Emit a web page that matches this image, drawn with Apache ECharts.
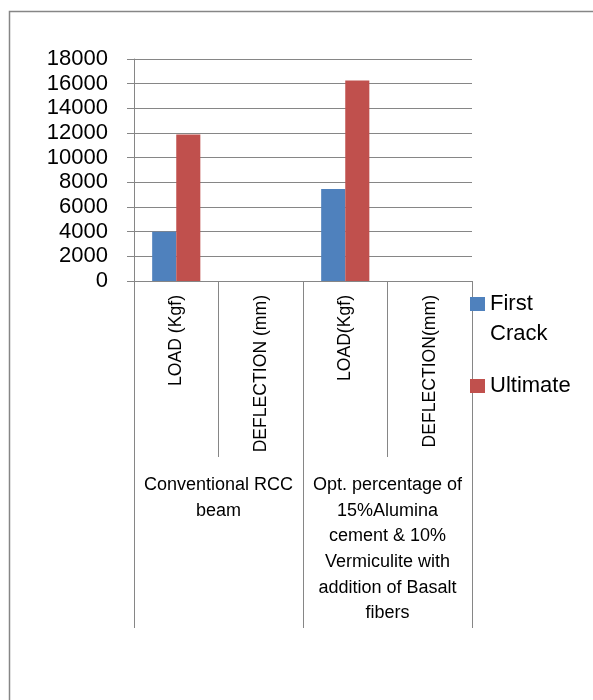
<!DOCTYPE html>
<html>
<head>
<meta charset="utf-8">
<script src="https://cdn.jsdelivr.net/npm/echarts@6/dist/echarts.min.js"></script>
<style>
html,body{margin:0;padding:0;background:#fff;}
#chart{width:593px;height:700px;}
</style>
</head>
<body>
<div id="chart"></div>
<script>
// data
var categories = ['LOAD (Kgf)', 'DEFLECTION (mm)', 'LOAD(Kgf)', 'DEFLECTION(mm)'];
var groups = ['Conventional RCC\nbeam', 'Opt. percentage of\n15%Alumina\ncement & 10%\nVermiculite with\naddition of Basalt\nfibers'];
var firstCrack = [4000, 0, 7460, 0];
var ultimate = [11870, 0, 16250, 0];
var yTicks = { min: 0, max: 18000, step: 2000 };

var chart = echarts.init(document.getElementById('chart'));
var font = 'Liberation Sans, Arial, sans-serif';
var gray = '#868686';

var option = {
  animation: false,
  textStyle: { fontFamily: font },
  grid: {
    left: 134,
    right: 121,
    top: 59,
    bottom: 419,
    outerBoundsMode: 'none'
  },
  xAxis: [{
    type: 'category',
    position: 'bottom',
    data: categories,
    axisLine: { show: true, lineStyle: { color: gray, width: 1 } },
    axisTick: { show: true, interval: 0, length: 176, lineStyle: { color: gray } },
    axisLabel: {
      interval: 0,
      rotate: 90,
      margin: 14,
      fontSize: 17.6,
      color: '#000',
      fontFamily: font
    },
    splitLine: { show: false }
  }, {
    type: 'category',
    position: 'bottom',
    data: groups,
    axisLine: { show: true, lineStyle: { color: gray, width: 1 } },
    axisTick: { show: true, interval: 0, length: 347, lineStyle: { color: gray } },
    axisLabel: {
      interval: 0,
      margin: 191,
      fontSize: 18,
      lineHeight: 25.7,
      color: '#000',
      align: 'center',
      fontFamily: font
    },
    splitLine: { show: false }
  }],
  yAxis: {
    type: 'value',
    min: yTicks.min,
    max: yTicks.max,
    interval: yTicks.step,
    axisLine: { show: true, lineStyle: { color: gray, width: 1 } },
    axisTick: { show: true, length: 7, lineStyle: { color: gray } },
    axisLabel: {
      margin: 26,
      fontSize: 22,
      color: '#000',
      fontFamily: font,
      formatter: function (v) { return String(v); }
    },
    splitLine: { show: true, lineStyle: { color: gray, width: 1, type: 'solid' } }
  },
  legend: [{
    data: [{ name: 'First Crack', icon: 'path://M0,0h15v14h-15zM0,44h0.01' }],
    orient: 'vertical',
    left: 470,
    top: 289,
    padding: 0,
    itemWidth: 15,
    itemHeight: 44,
    textStyle: { fontSize: 22, lineHeight: 30, color: '#000', width: 95, overflow: 'break', fontFamily: font }
  }, {
    data: [{ name: 'Ultimate', icon: 'rect' }],
    orient: 'vertical',
    left: 470,
    top: 371,
    padding: 0,
    itemWidth: 15,
    itemHeight: 14,
    textStyle: { fontSize: 22, lineHeight: 30, color: '#000', fontFamily: font }
  }],
  graphic: [{
    type: 'rect',
    shape: { x: 9.5, y: 11.5, width: 700, height: 800 },
    style: { fill: 'none', stroke: gray, lineWidth: 1.5 },
    silent: true
  }],
  series: [{
    name: 'First Crack',
    type: 'bar',
    xAxisIndex: 0,
    data: firstCrack,
    barGap: '0%',
    barCategoryGap: '43%',
    itemStyle: { color: '#4F81BD' }
  }, {
    name: 'Ultimate',
    type: 'bar',
    xAxisIndex: 0,
    data: ultimate,
    barGap: '0%',
    barCategoryGap: '43%',
    itemStyle: { color: '#C0504D' }
  }]
};
chart.setOption(option);
</script>
</body>
</html>
